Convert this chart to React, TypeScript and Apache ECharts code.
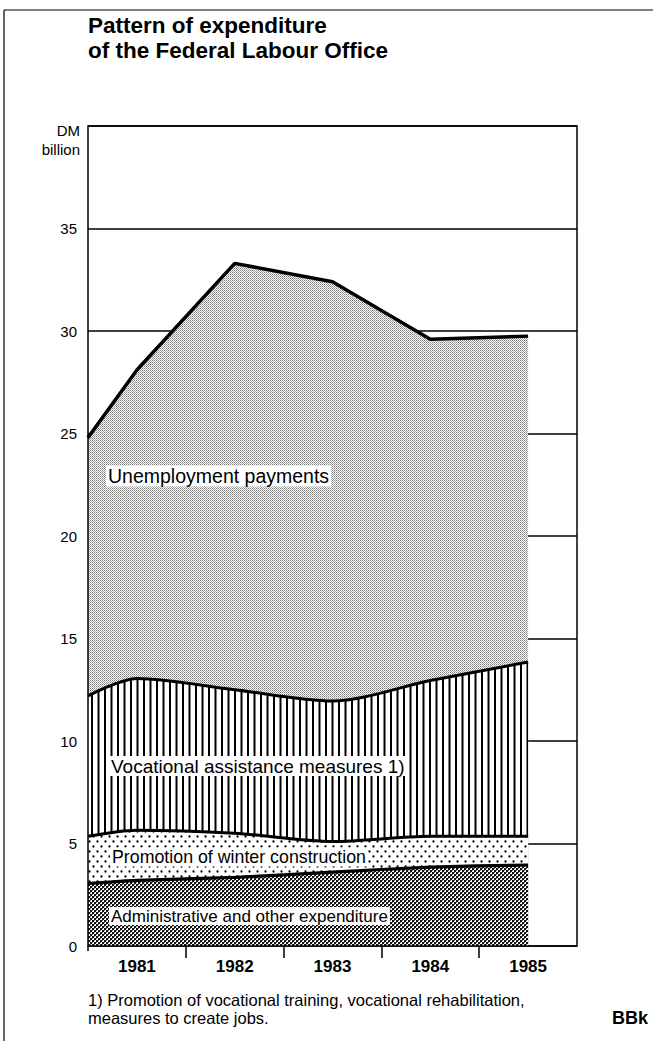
import React, { useEffect, useRef } from "react";
import * as echarts from "echarts";

// x positions (years); the first point is the end of 1980
const xPoints = [1980.5, 1981, 1982, 1983, 1984, 1985];
const yearLabels = [1981, 1982, 1983, 1984, 1985];
const yTicks = [0, 5, 10, 15, 20, 25, 30, 35];

// DM billion, components stacked from the bottom
const administrative = [3.05, 3.2, 3.35, 3.6, 3.85, 3.95];
const winterConstruction = [2.3, 2.45, 2.15, 1.5, 1.5, 1.4];
const vocationalAssistance = [6.85, 7.4, 7.0, 6.85, 7.6, 8.5];
const unemploymentPayments = [12.6, 15.05, 20.8, 20.45, 16.65, 15.9];

const seriesNames = [
  "Administrative and other expenditure",
  "Promotion of winter construction",
  "Vocational assistance measures 1)",
  "Unemployment payments",
];

const FONT = '"Liberation Sans", Arial, Helvetica, sans-serif';

function makePattern(w: number, h: number, draw: (ctx: CanvasRenderingContext2D) => void) {
  const c = document.createElement("canvas");
  c.width = w;
  c.height = h;
  const ctx = c.getContext("2d")!;
  ctx.fillStyle = "#ffffff";
  ctx.fillRect(0, 0, w, h);
  draw(ctx);
  return { image: c, repeat: "repeat" } as any;
}

export default function App() {
  const ref = useRef<HTMLDivElement>(null);

  useEffect(() => {
    if (!ref.current) return;
    const chart = echarts.init(ref.current, null, { renderer: "svg" });

    const adminPat = makePattern(4, 4, (ctx) => {
      ctx.fillStyle = "#111";
      ctx.fillRect(0, 0, 2, 2);
      ctx.fillRect(2, 2, 2, 2);
      ctx.fillStyle = "#777";
      ctx.fillRect(2, 0, 1, 1);
      ctx.fillRect(0, 2, 1, 1);
    });
    const winterPat = makePattern(8, 10, (ctx) => {
      ctx.fillStyle = "#000";
      ctx.beginPath();
      ctx.arc(1.5, 1.5, 1.15, 0, Math.PI * 2);
      ctx.fill();
      ctx.beginPath();
      ctx.arc(5.5, 6.5, 1.15, 0, Math.PI * 2);
      ctx.fill();
    });
    const vocPat = makePattern(13, 4, (ctx) => {
      ctx.fillStyle = "#000";
      ctx.fillRect(0, 0, 2, 4);
      ctx.fillRect(6.5, 0, 2, 4);
    });
    const unempPat = makePattern(2, 2, (ctx) => {
      ctx.fillStyle = "#7a7a7a";
      ctx.fillRect(0, 0, 1, 1);
      ctx.fillStyle = "#a8a8a8";
      ctx.fillRect(1, 1, 1, 1);
    });

    const components = [administrative, winterConstruction, vocationalAssistance, unemploymentPayments];
    // cumulative tops of each layer
    const cumulative: number[][] = [];
    components.forEach((vals, i) => {
      cumulative.push(vals.map((v, j) => (i === 0 ? v : cumulative[i - 1][j] + v)));
    });

    const patterns = [adminPat, winterPat, vocPat, unempPat];
    const lineWidths = [3.2, 3, 3, 3.5];
    const smooths = [0.2, 0.3, 0.3, 0];

    const series = cumulative.map((vals, i) => ({
      name: seriesNames[i],
      type: "line",
      z: 5 - i,
      symbol: "none",
      smooth: smooths[i],
      data: xPoints.map((x, j) => [x, Math.round(vals[j] * 100) / 100]),
      lineStyle: { color: "#000", width: lineWidths[i] },
      areaStyle: { color: patterns[i], opacity: 1 },
    }));

    const labelText = (text: string, x: number, y: number, size: number) => ({
      type: "text",
      x,
      y,
      z: 30,
      style: {
        text,
        font: `${size}px ${FONT}`,
        fill: "#000",
        backgroundColor: "#fff",
        padding: [1, 2, 0, 2],
        verticalAlign: "middle",
      },
    });

    chart.setOption({
      animation: false,
      backgroundColor: "#fff",
      title: {
        text: "Pattern of expenditure\nof the Federal Labour Office",
        left: 83,
        top: 8,
        textStyle: {
          fontFamily: FONT,
          fontSize: 22.5,
          fontWeight: "bold",
          lineHeight: 25,
          color: "#000",
        },
      },
      grid: {
        left: 88,
        right: 76,
        top: 126,
        bottom: 95,
        show: true,
        z: 10,
        borderColor: "#000",
        borderWidth: 1.5,
        backgroundColor: "transparent",
      },
      xAxis: {
        type: "value",
        min: 1980.5,
        max: 1985.5,
        axisLine: { show: false },
        splitLine: { show: false },
        axisTick: {
          show: true,
          length: 12,
          customValues: [1981.5, 1982.5, 1983.5, 1984.5],
          lineStyle: { color: "#000", width: 1.5 },
        },
        axisLabel: {
          customValues: yearLabels,
          formatter: (v: number) => String(Math.round(v)),
          fontFamily: FONT,
          fontSize: 17,
          fontWeight: "bold",
          color: "#000",
          margin: 12,
        },
      },
      yAxis: {
        type: "value",
        min: 0,
        max: 40,
        interval: 5,
        axisLine: { show: false },
        axisTick: { show: false },
        splitLine: { show: true, lineStyle: { color: "#000", width: 1.5 } },
        axisLabel: {
          formatter: (v: number) => (yTicks.includes(v) ? String(v) : ""),
          fontFamily: FONT,
          fontSize: 15,
          color: "#000",
          margin: 11,
        },
      },
      series,
      graphic: [
        { type: "line", z: 40, shape: { x1: 4, y1: 10, x2: 653, y2: 10 }, style: { stroke: "#000", lineWidth: 1.2 } },
        { type: "line", z: 40, shape: { x1: 4, y1: 10, x2: 4, y2: 1041 }, style: { stroke: "#000", lineWidth: 1.2 } },
        { type: "line", z: 40, shape: { x1: 88, y1: 946, x2: 88, y2: 951 }, style: { stroke: "#000", lineWidth: 1.5 } },
        {
          type: "text",
          x: 80,
          y: 123,
          z: 30,
          style: { text: "DM", font: `15px ${FONT}`, fill: "#000", textAlign: "right" },
        },
        {
          type: "text",
          x: 80,
          y: 142,
          z: 30,
          style: { text: "billion", font: `15px ${FONT}`, fill: "#000", textAlign: "right" },
        },
        labelText(seriesNames[3], 106, 476, 19.5),
        labelText(seriesNames[2], 109, 766, 19),
        labelText(seriesNames[1], 110, 857, 17.8),
        labelText(seriesNames[0], 109, 916, 17),
        {
          type: "text",
          x: 88,
          y: 991,
          z: 30,
          style: {
            text: "1) Promotion of vocational training, vocational rehabilitation,\nmeasures to create jobs.",
            font: `16.5px ${FONT}`,
            lineHeight: 18,
            fill: "#000",
          },
        },
        {
          type: "text",
          x: 612,
          y: 1009,
          z: 30,
          style: { text: "BBk", font: `bold 18px ${FONT}`, fill: "#000" },
        },
      ],
    });

    return () => chart.dispose();
  }, []);

  return (
    <div
      ref={ref}
      style={{ position: "fixed", left: 0, top: 0, width: 653, height: 1041, background: "#fff" }}
    />
  );
}
